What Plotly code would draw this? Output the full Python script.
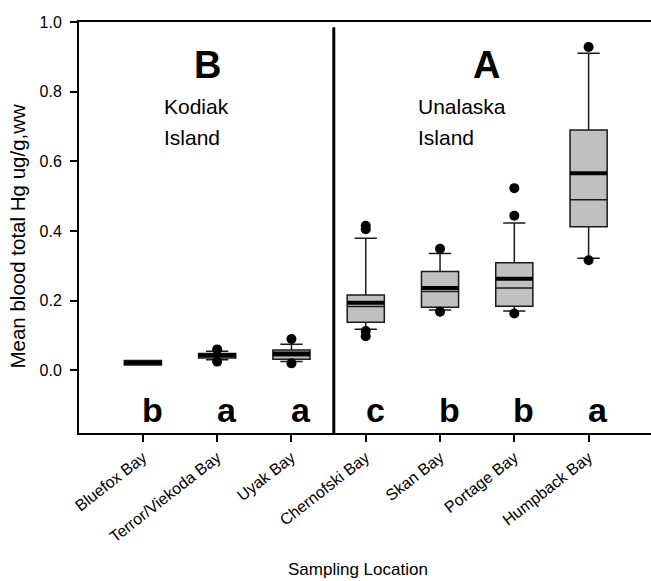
import plotly.graph_objects as go

# ---- data ----
locations = ["Bluefox Bay", "Terror/Viekoda Bay", "Uyak Bay", "Chernofski Bay",
             "Skan Bay", "Portage Bay", "Humpback Bay"]
q1_vals = [0.015, 0.035, 0.032, 0.138, 0.181, 0.184, 0.412]
median_vals = [0.020, 0.040, 0.042, 0.183, 0.226, 0.236, 0.490]
q3_vals = [0.028, 0.048, 0.058, 0.216, 0.284, 0.309, 0.690]
mean_vals = [0.022, 0.043, 0.048, 0.194, 0.236, 0.263, 0.566]
lower_whisker = [0.015, 0.030, 0.025, 0.118, 0.173, 0.170, 0.322]
upper_whisker = [0.028, 0.055, 0.075, 0.379, 0.335, 0.423, 0.910]
outliers = [
    [],
    [0.025, 0.060],
    [0.020, 0.090],
    [0.405, 0.415, 0.113, 0.098],
    [0.349, 0.168],
    [0.523, 0.444, 0.163],
    [0.928, 0.316],
]
group_letters = ["b", "a", "a", "c", "b", "b", "a"]
y_ticks = [0.0, 0.2, 0.4, 0.6, 0.8, 1.0]

FONT = "Arial, Liberation Sans, Helvetica, sans-serif"
pos = list(range(len(locations)))
BOX_W = 0.5
X_RANGE = [-0.86, 6.84]
Y_RANGE = [-0.18, 1.0]

fig = go.Figure()

fig.add_trace(go.Box(
    x=pos, q1=q1_vals, median=median_vals, q3=q3_vals,
    lowerfence=lower_whisker, upperfence=upper_whisker,
    width=BOX_W, whiskerwidth=0.6,
    fillcolor="#c0c0c0", line=dict(color="#1a1a1a", width=1.5),
    boxpoints=False, showlegend=False, hoverinfo="skip",
))

# thick mean lines
mx, my = [], []
for i, m in zip(pos, mean_vals):
    mx += [i - BOX_W / 2, i + BOX_W / 2, None]
    my += [m, m, None]
fig.add_trace(go.Scatter(x=mx, y=my, mode="lines",
                         line=dict(color="black", width=4),
                         showlegend=False, hoverinfo="skip"))

# outliers
ox, oy = [], []
for i, pts in zip(pos, outliers):
    ox += [i] * len(pts)
    oy += pts
fig.add_trace(go.Scatter(x=ox, y=oy, mode="markers",
                         marker=dict(color="black", size=10),
                         showlegend=False, hoverinfo="skip"))

annotations = []
for i, letter in zip(pos, group_letters):
    annotations.append(dict(x=i + 0.13, y=-0.115, text=f"<b>{letter}</b>",
                            showarrow=False, xanchor="center", yanchor="middle",
                            font=dict(family=FONT, size=34, color="black")))

annotations += [
    dict(x=0.876, y=0.877, text="<b>B</b>", showarrow=False,
         font=dict(family=FONT, size=38, color="black")),
    dict(x=4.63, y=0.877, text="<b>A</b>", showarrow=False,
         font=dict(family=FONT, size=38, color="black")),
    dict(x=0.26, y=0.757, text="Kodiak", showarrow=False, xanchor="left",
         font=dict(family=FONT, size=21, color="black")),
    dict(x=0.26, y=0.668, text="Island", showarrow=False, xanchor="left",
         font=dict(family=FONT, size=21, color="black")),
    dict(x=3.68, y=0.757, text="Unalaska", showarrow=False, xanchor="left",
         font=dict(family=FONT, size=21, color="black")),
    dict(x=3.68, y=0.668, text="Island", showarrow=False, xanchor="left",
         font=dict(family=FONT, size=21, color="black")),
    dict(x=0.488, y=-0.333, xref="paper", yref="paper", text="Sampling Location",
         showarrow=False, xanchor="center", yanchor="middle",
         font=dict(family=FONT, size=17, color="black")),
    dict(x=-0.107, y=0.48, xref="paper", yref="paper",
         text="Mean blood total Hg ug/g,ww", textangle=-90,
         showarrow=False, xanchor="center", yanchor="middle",
         font=dict(family=FONT, size=20.5, color="black")),
]

fig.update_layout(
    width=651, height=581,
    margin=dict(l=79, r=0, t=22, b=148),
    plot_bgcolor="white", paper_bgcolor="white",
    font=dict(family=FONT, color="black"),
    annotations=annotations,
    shapes=[dict(type="line", xref="x", yref="y", x0=2.57, x1=2.57,
                 y0=0.985, y1=Y_RANGE[0], line=dict(color="black", width=3))],
    xaxis=dict(
        range=X_RANGE, tickmode="array", tickvals=pos, ticktext=locations,
        tickangle=-38, ticks="outside", ticklen=7, tickwidth=1.5, tickcolor="black",
        showline=True, linecolor="black", linewidth=2, mirror=True,
        showgrid=False, zeroline=False, tickfont=dict(size=16, family=FONT),
    ),
    yaxis=dict(
        range=Y_RANGE, tickmode="array", tickvals=y_ticks,
        ticktext=[f"{v:.1f}" for v in y_ticks],
        ticks="outside", ticklen=7, tickwidth=1.5, tickcolor="black",
        ticklabelstandoff=5,
        showline=True, linecolor="black", linewidth=2,
        showgrid=False, zeroline=False, tickfont=dict(size=16, family=FONT),
    ),
)

fig.write_html("out.html", config={"displayModeBar": False},
               post_script="document.body.style.margin='0';")
